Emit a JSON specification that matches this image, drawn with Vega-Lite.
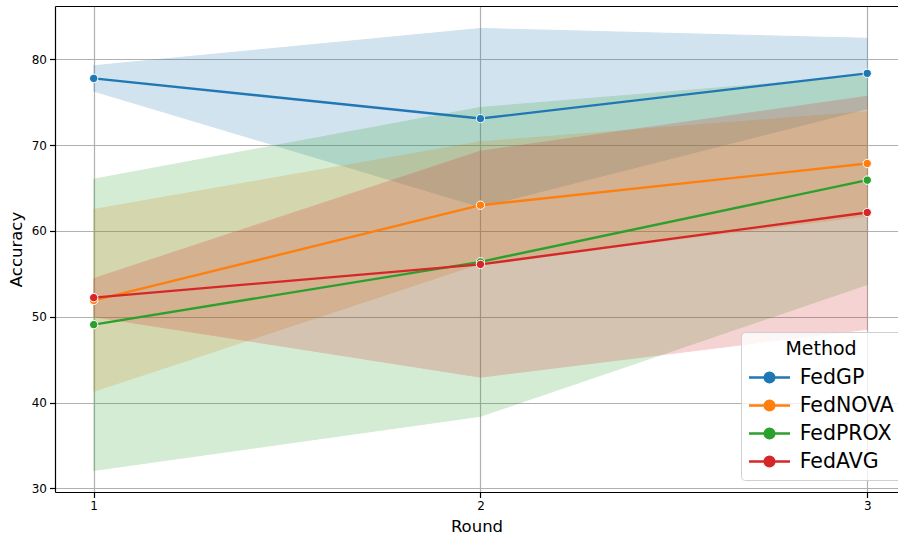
{
  "$schema": "https://vega.github.io/schema/vega-lite/v6.json",
  "width": 843,
  "height": 486,
  "autosize": {"type": "none"},
  "padding": {"left": 55, "top": 6, "right": 0, "bottom": 47},
  "background": "white",
  "config": {
    "font": "DejaVu Sans",
    "view": {"stroke": null},
    "axis": {
      "labelFont": "DejaVu Sans",
      "titleFont": "DejaVu Sans",
      "labelFontSize": 12,
      "titleFontSize": 16.5,
      "titleFontWeight": "normal",
      "labelColor": "#000000",
      "titleColor": "#000000",
      "domainColor": "#000000",
      "domainWidth": 1.2,
      "tickColor": "#000000",
      "tickWidth": 1.2,
      "tickSize": 5.5,
      "gridColor": "#b0b0b0",
      "gridWidth": 1.2
    }
  },
  "data": {
    "values": [
      {"method": "FedGP", "round": 1, "mean": 77.78, "lo": 76.3, "hi": 79.25},
      {"method": "FedGP", "round": 2, "mean": 73.1, "lo": 62.8, "hi": 83.6},
      {"method": "FedGP", "round": 3, "mean": 78.37, "lo": 74.25, "hi": 82.45},
      {"method": "FedNOVA", "round": 1, "mean": 51.9, "lo": 41.3, "hi": 62.5},
      {"method": "FedNOVA", "round": 2, "mean": 63.0, "lo": 56.2, "hi": 70.4},
      {"method": "FedNOVA", "round": 3, "mean": 67.86, "lo": 61.75, "hi": 73.9},
      {"method": "FedPROX", "round": 1, "mean": 49.08, "lo": 32.08, "hi": 66.03},
      {"method": "FedPROX", "round": 2, "mean": 56.4, "lo": 38.4, "hi": 74.4},
      {"method": "FedPROX", "round": 3, "mean": 65.92, "lo": 53.75, "hi": 78.1},
      {"method": "FedAVG", "round": 1, "mean": 52.23, "lo": 50.0, "hi": 54.45},
      {"method": "FedAVG", "round": 2, "mean": 56.1, "lo": 42.96, "hi": 69.3},
      {"method": "FedAVG", "round": 3, "mean": 62.15, "lo": 48.53, "hi": 75.7}
    ]
  },
  "layer": [
    {
      "mark": {"type": "area", "opacity": 0.2, "strokeWidth": 1, "strokeOpacity": 1},
      "encoding": {
        "x": {
          "field": "round", "type": "quantitative",
          "scale": {"domain": [0.9, 3.0795], "nice": false, "zero": false},
          "axis": {"values": [1, 2, 3], "format": "d", "title": "Round", "grid": true, "labelPadding": 3, "titlePadding": 7, "orient": "bottom"}
        },
        "y": {
          "field": "lo", "type": "quantitative",
          "scale": {"domain": [29.57, 86.22], "nice": false, "zero": false},
          "axis": {"values": [30, 40, 50, 60, 70, 80], "title": "Accuracy", "grid": true, "labelPadding": 3, "titlePadding": 7}
        },
        "y2": {"field": "hi"},
        "color": {
          "field": "method", "type": "nominal",
          "scale": {"domain": ["FedGP", "FedNOVA", "FedPROX", "FedAVG"], "range": ["#1f77b4", "#ff7f0e", "#2ca02c", "#d62728"]},
          "legend": {
            "title": "Method",
            "orient": "none",
            "legendX": 686,
            "legendY": 326,
            "titleFontSize": 19,
            "titleFontWeight": "normal",
            "titleColor": "#000000",
            "titleAnchor": "middle",
            "titlePadding": 7,
            "labelFontSize": 20.5,
            "labelColor": "#000000",
            "labelOffset": 27.7,
            "symbolType": "M-1.15,0L2.95,0M1.39,0A0.49,0.49,0,1,1,0.41,0A0.49,0.49,0,1,1,1.39,0Z",
            "symbolSize": 400,
            "symbolStrokeWidth": 2.3,
            "symbolOpacity": 1,
            "rowPadding": 6,
            "padding": 8,
            "fillColor": "rgba(255,255,255,0.8)",
            "strokeColor": "#d0d0d0",
            "cornerRadius": 4,
            "encode": {
              "symbols": {"update": {"fill": {"scale": "color", "field": "value"}, "stroke": {"scale": "color", "field": "value"}, "fillOpacity": {"value": 1}, "strokeOpacity": {"value": 1}, "opacity": {"value": 1}}}
            }
          }
        },
        "stroke": {
          "field": "method", "type": "nominal",
          "scale": {"domain": ["FedGP", "FedNOVA", "FedPROX", "FedAVG"], "range": ["#1f77b4", "#ff7f0e", "#2ca02c", "#d62728"]},
          "legend": null
        }
      }
    },
    {
      "mark": {"type": "line", "strokeWidth": 2.4},
      "encoding": {
        "x": {
          "field": "round", "type": "quantitative",
          "axis": {"orient": "top", "labels": false, "ticks": false, "grid": false, "title": null, "domainColor": "#000000"}
        },
        "y": {"field": "mean", "type": "quantitative"},
        "color": {"field": "method", "type": "nominal"}
      }
    },
    {
      "mark": {"type": "point", "filled": true, "size": 70, "opacity": 1, "stroke": "white", "strokeWidth": 1},
      "encoding": {
        "x": {"field": "round", "type": "quantitative", "axis": null},
        "y": {"field": "mean", "type": "quantitative"},
        "fill": {"field": "method", "type": "nominal", "scale": {"domain": ["FedGP", "FedNOVA", "FedPROX", "FedAVG"], "range": ["#1f77b4", "#ff7f0e", "#2ca02c", "#d62728"]}, "legend": null}
      }
    }
  ],
  "resolve": {"axis": {"x": "independent"}}
}
